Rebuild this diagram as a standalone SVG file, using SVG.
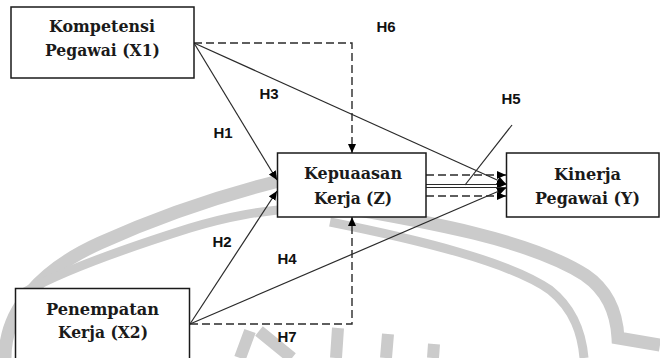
<svg xmlns="http://www.w3.org/2000/svg" width="660" height="358" viewBox="0 0 660 358">
<style>
.wm{fill:none;stroke:#cbcbcb;stroke-linecap:butt}
.box{fill:#fff;stroke:#1a1a1a;stroke-width:1.5}
.lbl{font-family:"DejaVu Serif","Liberation Serif",serif;font-weight:bold;font-size:16.5px;fill:#1a1a1a}
.h{font-family:"Liberation Sans",Arial,sans-serif;font-weight:bold;font-size:15px;fill:#111;text-anchor:middle}
.sol{fill:none;stroke:#2a2a2a;stroke-width:1.2}
.dash{fill:none;stroke:#2a2a2a;stroke-width:1.4;stroke-dasharray:8 4}
</style>
<defs>
<marker id="arr" markerUnits="userSpaceOnUse" markerWidth="10" markerHeight="10" refX="9" refY="4" orient="auto">
<path d="M0,0 L9,4 L0,8 z" fill="#000"/>
</marker>
</defs>
<g id="watermark">
<path class="wm" stroke-width="13" d="M5,358 C5,310 40,270 100,243 C160,216 230,192 300,176"/>
<path class="wm" stroke-width="9" d="M25,292 C60,272 120,250 190,228 C230,216 260,211 300,208"/>
<path class="wm" stroke-width="13" d="M330,205 C430,222 530,240 585,275 C610,292 617,318 618,338 L660,345"/>
<path class="wm" stroke-width="9" d="M330,222 C420,240 510,262 550,290 C575,310 582,335 584,358"/>
<path class="wm" stroke-width="12" d="M240,358 L250,331 M259,331 L292,358 M336,358 L338,328 M386,358 L388,334 M433,358 L434,344"/>
</g>
<g id="connectors">
<path class="sol" d="M194,43 L277,180" marker-end="url(#arr)"/>
<path class="sol" d="M190,324 L277,191" marker-end="url(#arr)"/>
<path class="sol" d="M194,43 L506,184" marker-end="url(#arr)"/>
<path class="sol" d="M190,324 L506,188" marker-end="url(#arr)"/>
<path class="dash" d="M194,43 H352 V153" marker-end="url(#arr)"/>
<path class="dash" d="M190,324 H352 V217" marker-end="url(#arr)"/>
<path class="dash" d="M426,175 H506" marker-end="url(#arr)"/>
<path class="dash" d="M426,196 H506" marker-end="url(#arr)"/>
<path class="sol" d="M426,184.5 H506" marker-end="url(#arr)"/>
<path class="sol" d="M426,187.5 H506"/>
<path class="sol" d="M512,125 L465,185"/>
</g>
<g id="x1">
<rect class="box" x="11" y="7" width="183" height="71"/>
<text class="lbl" x="49" y="32" textLength="106" lengthAdjust="spacingAndGlyphs">Kompetensi</text>
<text class="lbl" x="45" y="56" textLength="115" lengthAdjust="spacingAndGlyphs">Pegawai (X1)</text>
</g>
<g id="x2">
<rect class="box" x="15.5" y="288.5" width="174" height="75"/>
<text class="lbl" x="46" y="315" textLength="113" lengthAdjust="spacingAndGlyphs">Penempatan</text>
<text class="lbl" x="58" y="338" textLength="90" lengthAdjust="spacingAndGlyphs">Kerja (X2)</text>
</g>
<g id="z">
<rect class="box" x="277.5" y="153" width="148.5" height="64"/>
<text class="lbl" x="304" y="179" textLength="98" lengthAdjust="spacingAndGlyphs">Kepuaasan</text>
<text class="lbl" x="314" y="204" textLength="78" lengthAdjust="spacingAndGlyphs">Kerja (Z)</text>
</g>
<g id="y">
<rect class="box" x="506.5" y="153" width="152.5" height="64"/>
<text class="lbl" x="554" y="180" textLength="67" lengthAdjust="spacingAndGlyphs">Kinerja</text>
<text class="lbl" x="535" y="204" textLength="105" lengthAdjust="spacingAndGlyphs">Pegawai (Y)</text>
</g>
<g id="labels">
<text class="h" x="386" y="32">H6</text>
<text class="h" x="511" y="104">H5</text>
<text class="h" x="269" y="99">H3</text>
<text class="h" x="223" y="138">H1</text>
<text class="h" x="222" y="247">H2</text>
<text class="h" x="287" y="264">H4</text>
<text class="h" x="287" y="342">H7</text>
</g>
</svg>
